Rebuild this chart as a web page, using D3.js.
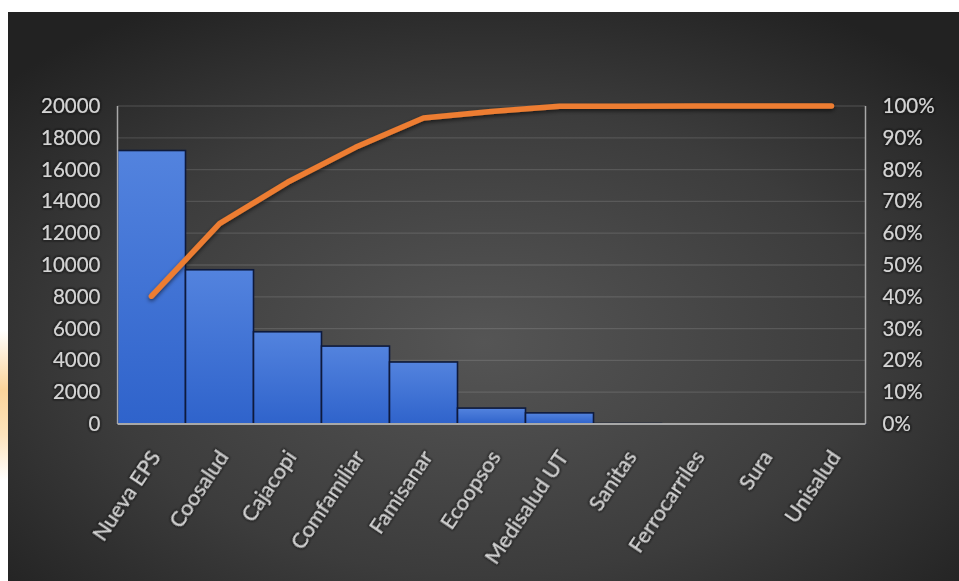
<!DOCTYPE html>
<html>
<head>
<meta charset="utf-8">
<script src="https://cdn.jsdelivr.net/npm/d3@7/dist/d3.min.js"></script>
<style>
  html, body { margin: 0; padding: 0; background: #ffffff; }
  svg { display: block; }
  text { font-family: Lato, "Open Sans", sans-serif; }
</style>
</head>
<body>
<svg id="chart" width="959" height="581"></svg>
<script>
// ---- data ----
const categories = ["Nueva EPS", "Coosalud", "Cajacopi", "Comfamiliar", "Famisanar",
  "Ecoopsos", "Medisalud UT", "Sanitas", "Ferrocarriles", "Sura", "Unisalud"];
const counts = [17200, 9700, 5800, 4900, 3900, 1000, 700, 30, 8, 4, 2];
const cumulativePct = [40.2, 63.0, 76.0, 87.0, 96.2, 98.3, 99.9, 99.95, 99.98, 99.99, 100];
const leftTicks = [0, 2000, 4000, 6000, 8000, 10000, 12000, 14000, 16000, 18000, 20000];
const rightTicks = [0, 10, 20, 30, 40, 50, 60, 70, 80, 90, 100];

const svg = d3.select("#chart");
const W = 959, H = 581;
const panel = { x: 8, y: 12, w: W - 8, h: H - 12 };
const plot = { left: 117.5, right: 865.5, top: 106, bottom: 424 };

const defs = svg.append("defs");
const bg = defs.append("radialGradient").attr("id", "bg")
  .attr("cx", "50%").attr("cy", "58%").attr("r", "68%");
bg.append("stop").attr("offset", "0%").attr("stop-color", "#555555");
bg.append("stop").attr("offset", "60%").attr("stop-color", "#3c3c3c");
bg.append("stop").attr("offset", "100%").attr("stop-color", "#222222");

const barGrad = defs.append("linearGradient").attr("id", "barGrad")
  .attr("x1", "0").attr("y1", "0").attr("x2", "0").attr("y2", "1");
barGrad.append("stop").attr("offset", "0%").attr("stop-color", "#5383de");
barGrad.append("stop").attr("offset", "100%").attr("stop-color", "#2f63cb");

const wm = defs.append("linearGradient").attr("id", "wm")
  .attr("x1", "0").attr("y1", "0").attr("x2", "0").attr("y2", "1");
wm.append("stop").attr("offset", "0%").attr("stop-color", "#ffffff");
wm.append("stop").attr("offset", "40%").attr("stop-color", "#fbd49a");
wm.append("stop").attr("offset", "70%").attr("stop-color", "#fde4bd");
wm.append("stop").attr("offset", "100%").attr("stop-color", "#ffffff");

const shadow = defs.append("filter").attr("id", "shadow")
  .attr("x", "-10%").attr("y", "-10%").attr("width", "120%").attr("height", "140%");
shadow.append("feDropShadow").attr("dx", 0).attr("dy", 2).attr("stdDeviation", 2)
  .attr("flood-color", "#000").attr("flood-opacity", 0.6);

const glow = defs.append("filter").attr("id", "glow")
  .attr("x", "-20%").attr("y", "-20%").attr("width", "140%").attr("height", "140%");
glow.append("feMorphology").attr("in", "SourceAlpha").attr("operator", "dilate").attr("radius", 1).attr("result", "d");
glow.append("feGaussianBlur").attr("in", "d").attr("stdDeviation", 1).attr("result", "b");
glow.append("feFlood").attr("flood-color", "#111").attr("flood-opacity", 0.7);
glow.append("feComposite").attr("in2", "b").attr("operator", "in").attr("result", "s");
const gm = glow.append("feMerge");
gm.append("feMergeNode").attr("in", "s");
gm.append("feMergeNode").attr("in", "SourceGraphic");

// watermark tint on left margin
svg.append("rect").attr("x", 0).attr("y", 330).attr("width", 8).attr("height", 150)
  .attr("fill", "url(#wm)");

// background panel
svg.append("rect").attr("x", panel.x).attr("y", panel.y)
  .attr("width", panel.w).attr("height", panel.h).attr("fill", "url(#bg)");

// ---- scales ----
const x = d3.scaleBand().domain(categories).range([plot.left, plot.right]).padding(0);
const y = d3.scaleLinear().domain([0, 20000]).range([plot.bottom, plot.top]);
const y2 = d3.scaleLinear().domain([0, 100]).range([plot.bottom, plot.top]);

// gridlines
svg.append("g").selectAll("line").data(leftTicks.filter(d => d > 0)).join("line")
  .attr("x1", plot.left).attr("x2", plot.right)
  .attr("y1", d => y(d)).attr("y2", d => y(d))
  .attr("stroke", "#ffffff").attr("stroke-opacity", 0.12).attr("stroke-width", 1.3);

// bars
svg.append("g").selectAll("rect").data(counts).join("rect")
  .attr("x", (d, i) => x(categories[i]))
  .attr("y", d => y(d))
  .attr("width", x.bandwidth())
  .attr("height", d => y(0) - y(d))
  .attr("fill", "url(#barGrad)")
  .attr("stroke", "#0e1a3c").attr("stroke-width", 1.6);

// axis frame lines
const axisColor = "#a8a8a8";
svg.append("line").attr("x1", plot.left).attr("x2", plot.left)
  .attr("y1", plot.top).attr("y2", plot.bottom)
  .attr("stroke", axisColor).attr("stroke-width", 1.5);
svg.append("line").attr("x1", plot.right).attr("x2", plot.right)
  .attr("y1", plot.top).attr("y2", plot.bottom)
  .attr("stroke", axisColor).attr("stroke-width", 1.5);
svg.append("line").attr("x1", plot.left).attr("x2", plot.right)
  .attr("y1", plot.bottom).attr("y2", plot.bottom)
  .attr("stroke", axisColor).attr("stroke-width", 2);

// cumulative line
const line = d3.line()
  .x((d, i) => x(categories[i]) + x.bandwidth() / 2)
  .y(d => y2(d));
svg.append("path").datum(cumulativePct)
  .attr("d", line)
  .attr("fill", "none")
  .attr("stroke", "#ed7d31").attr("stroke-width", 5.5)
  .attr("stroke-linecap", "round").attr("stroke-linejoin", "round")
  .attr("filter", "url(#shadow)");

// axes
const labelColor = "#d4d4d4";
const fs = 20.5;
const leftAxis = svg.append("g").attr("transform", `translate(${plot.left},0)`)
  .call(d3.axisLeft(y).tickValues(leftTicks).tickSize(0).tickPadding(17).tickFormat(d3.format("d")));
leftAxis.select(".domain").remove();
leftAxis.selectAll("text").attr("fill", labelColor).attr("font-size", fs)
  .attr("font-family", "Lato, sans-serif").attr("filter", "url(#glow)");

const rightAxis = svg.append("g").attr("transform", `translate(${plot.right},0)`)
  .call(d3.axisRight(y2).tickValues(rightTicks).tickSize(0).tickPadding(17).tickFormat(d => d + "%"));
rightAxis.select(".domain").remove();
rightAxis.selectAll("text").attr("fill", labelColor).attr("font-size", fs)
  .attr("font-family", "Lato, sans-serif").attr("filter", "url(#glow)");

const bottomAxis = svg.append("g").attr("transform", `translate(0,${plot.bottom})`)
  .call(d3.axisBottom(x).tickSize(0).tickPadding(0));
bottomAxis.select(".domain").remove();
bottomAxis.selectAll("text")
  .attr("fill", labelColor).attr("font-size", 21.5).attr("font-family", "Lato, sans-serif")
  .attr("text-anchor", "end")
  .attr("dy", 0).attr("y", 0)
  .attr("filter", "url(#glow)")
  .attr("transform", d => `translate(10,33) rotate(-56)`);
</script>
</body>
</html>
